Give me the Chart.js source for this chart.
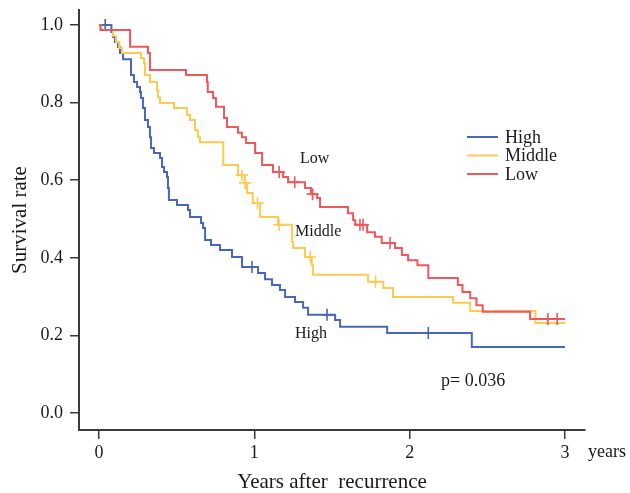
<!DOCTYPE html>
<html>
<head>
<meta charset="utf-8">
<script src="https://cdn.jsdelivr.net/npm/chart.js@4"></script>
<style>
  html, body { margin: 0; padding: 0; background: #fff; }
  #wrap { width: 630px; height: 493px; position: relative; }
</style>
</head>
<body>
<div id="wrap"><canvas id="c"></canvas></div>
<script>
// ---------------- data ----------------
const groupLabels = ['High', 'Middle', 'Low'];
const xTickValues = [0, 1, 2, 3];
const yTickValues = [0, 0.2, 0.4, 0.6, 0.8, 1.0];
const xUnitLabel = 'years';
const pValueText = 'p= 0.036';

const highTimes = [0, 0.08, 0.09, 0.103, 0.122, 0.135, 0.155, 0.206, 0.225, 0.245, 0.264, 0.27, 0.283, 0.296, 0.315, 0.328, 0.335, 0.354, 0.393, 0.406, 0.419, 0.438, 0.444, 0.45, 0.502, 0.573, 0.586, 0.657, 0.67, 0.683, 0.721, 0.779, 0.856, 0.921, 1.024, 1.069, 1.114, 1.165, 1.198, 1.262, 1.314, 1.346, 1.52, 1.552, 1.855, 2.40, 3.0];
const highSurv  = [1.0, 0.982, 0.969, 0.956, 0.943, 0.928, 0.912, 0.871, 0.853, 0.84, 0.827, 0.812, 0.786, 0.755, 0.737, 0.711, 0.683, 0.67, 0.657, 0.634, 0.621, 0.608, 0.58, 0.549, 0.536, 0.523, 0.505, 0.49, 0.477, 0.446, 0.433, 0.42, 0.402, 0.376, 0.361, 0.345, 0.33, 0.317, 0.299, 0.286, 0.271, 0.253, 0.24, 0.222, 0.206, 0.17, 0.17];

const midTimes = [0, 0.01, 0.09, 0.11, 0.13, 0.148, 0.27, 0.29, 0.296, 0.328, 0.373, 0.38, 0.393, 0.483, 0.567, 0.586, 0.618, 0.637, 0.65, 0.80, 0.895, 0.94, 0.953, 0.99, 1.037, 1.153, 1.243, 1.25, 1.326, 1.37, 1.378, 1.732, 1.83, 1.893, 2.28, 2.39, 2.81, 3.0];
const midSurv  = [1.0, 0.987, 0.972, 0.956, 0.941, 0.928, 0.915, 0.902, 0.871, 0.853, 0.832, 0.814, 0.799, 0.786, 0.768, 0.755, 0.729, 0.711, 0.698, 0.639, 0.613, 0.593, 0.567, 0.541, 0.505, 0.485, 0.441, 0.425, 0.402, 0.381, 0.356, 0.338, 0.322, 0.299, 0.284, 0.263, 0.232, 0.232];

const lowTimes = [0, 0.01, 0.20, 0.315, 0.328, 0.56, 0.695, 0.70, 0.735, 0.753, 0.805, 0.824, 0.895, 0.92, 0.947, 1.005, 1.05, 1.12, 1.185, 1.217, 1.326, 1.365, 1.404, 1.423, 1.603, 1.636, 1.65, 1.726, 1.777, 1.82, 1.906, 1.95, 1.99, 2.05, 2.12, 2.31, 2.34, 2.39, 2.43, 2.47, 2.775, 3.0];
const lowSurv  = [1.0, 0.987, 0.944, 0.928, 0.884, 0.871, 0.853, 0.827, 0.812, 0.789, 0.76, 0.737, 0.722, 0.711, 0.696, 0.67, 0.639, 0.621, 0.608, 0.595, 0.58, 0.564, 0.554, 0.531, 0.515, 0.497, 0.485, 0.466, 0.454, 0.438, 0.425, 0.407, 0.394, 0.381, 0.348, 0.33, 0.312, 0.296, 0.278, 0.261, 0.242, 0.242];

const highCensorT = [0.04, 0.985, 1.468, 2.12];
const highCensorS = [1.0, 0.376, 0.253, 0.206];
const midCensorT  = [0.92, 0.94, 1.02, 1.16, 1.36, 1.78];
const midCensorS  = [0.613, 0.593, 0.541, 0.485, 0.402, 0.338];
const lowCensorT  = [1.16, 1.26, 1.375, 1.68, 1.70, 1.874, 2.89, 2.95];
const lowCensorS  = [0.621, 0.595, 0.564, 0.485, 0.485, 0.438, 0.242, 0.242];

// ---------------- styling / layout ----------------
const colors = ['#4867bb', '#fdca52', '#f0575a'];
const FONT = '"Liberation Serif", "Times New Roman", serif';
const TEXT = '#1a1a1a';
const AXIS = '#3a3a3a';
// annotation anchors in data units
const curveLabelPos = [ {x: 1.262, y: 0.204}, {x: 1.262, y: 0.467}, {x: 1.294, y: 0.655} ];
const pValuePos = {x: 2.202, y: 0.082};

const zip = (t, s) => t.map((v, i) => ({x: v, y: s[i]}));
const times = [highTimes, midTimes, lowTimes];
const survs = [highSurv, midSurv, lowSurv];
const cT = [highCensorT, midCensorT, lowCensorT];
const cS = [highCensorS, midCensorS, lowCensorS];

const datasets = [];
groupLabels.forEach((lab, i) => {
  datasets.push({
    label: lab, data: zip(times[i], survs[i]),
    borderColor: colors[i], backgroundColor: colors[i],
    borderWidth: 2, stepped: 'before', pointRadius: 0, fill: false, order: 3 - i
  });
});
groupLabels.forEach((lab, i) => {
  datasets.push({
    label: lab + ' censored', data: zip(cT[i], cS[i]),
    showLine: false, pointStyle: 'cross', pointRadius: 6, pointBorderWidth: 1.6,
    borderColor: colors[i], backgroundColor: colors[i], order: 3 - i
  });
});

const annot = {
  id: 'annot',
  afterDatasetsDraw(chart) {
    const {ctx, scales: {x, y}, chartArea} = chart;
    ctx.save();
    ctx.fillStyle = TEXT;
    ctx.textBaseline = 'middle';
    ctx.textAlign = 'left';
    // curve labels
    ctx.font = '16px ' + FONT;
    groupLabels.forEach((lab, i) => {
      ctx.fillText(lab, x.getPixelForValue(curveLabelPos[i].x), y.getPixelForValue(curveLabelPos[i].y));
    });
    // p value
    ctx.font = '18px ' + FONT;
    ctx.fillText(pValueText, x.getPixelForValue(pValuePos.x), y.getPixelForValue(pValuePos.y));
    // legend
    const lx = 467, ly0 = 137, dy = 18.5;
    groupLabels.forEach((lab, i) => {
      const yy = ly0 + i * dy;
      ctx.strokeStyle = colors[i];
      ctx.lineWidth = 2;
      ctx.beginPath();
      ctx.moveTo(lx, yy); ctx.lineTo(lx + 31, yy);
      ctx.stroke();
      ctx.fillStyle = TEXT;
      ctx.font = '18px ' + FONT;
      ctx.fillText(lab, lx + 38, yy + 1);
    });
    // unit label next to last x tick
    ctx.font = '18px ' + FONT;
    ctx.fillText(xUnitLabel, chartArea.right + 3, 452);
    ctx.restore();
  }
};

new Chart(document.getElementById('c'), {
  type: 'line',
  data: { datasets },
  plugins: [annot],
  options: {
    responsive: true,
    maintainAspectRatio: false,
    animation: false,
    layout: { padding: { left: 0, right: 45, top: 10, bottom: 0 } },
    plugins: { legend: { display: false }, tooltip: { enabled: false } },
    scales: {
      x: {
        type: 'linear',
        min: -20 / 155.33, max: 3 + 20 / 155.33,
        afterBuildTicks: s => { s.ticks = xTickValues.map(v => ({value: v})); },
        afterFit: s => { s.height = 63; s.paddingLeft = 0; s.paddingRight = 0; },
        grid: { display: true, drawOnChartArea: false, drawTicks: true, tickLength: 9, color: AXIS, lineWidth: 1.5 },
        border: { display: true, color: AXIS, width: 2 },
        ticks: { color: TEXT, font: { family: FONT, size: 18 }, padding: 3, maxRotation: 0,
                 callback: v => String(v) },
        title: { display: true, text: 'Years after  recurrence', color: TEXT,
                 font: { family: FONT, size: 21, lineHeight: 1.0 }, padding: { top: 0, bottom: 0 } }
      },
      y: {
        type: 'linear',
        min: -17 / 388, max: 1 + 15 / 388,
        afterBuildTicks: s => { s.ticks = yTickValues.map(v => ({value: v})); },
        afterFit: s => { s.width = 79; s.paddingTop = 0; s.paddingBottom = 0; },
        grid: { display: true, drawOnChartArea: false, drawTicks: true, tickLength: 9, color: AXIS, lineWidth: 1.5 },
        border: { display: true, color: AXIS, width: 2 },
        ticks: { color: TEXT, font: { family: FONT, size: 18 }, padding: 7,
                 callback: v => Number(v).toFixed(1) },
        title: { display: true, text: 'Survival rate', color: TEXT,
                 font: { family: FONT, size: 21, lineHeight: 1.0 }, padding: { top: 10, bottom: 0 } }
      }
    }
  }
});
</script>
</body>
</html>
